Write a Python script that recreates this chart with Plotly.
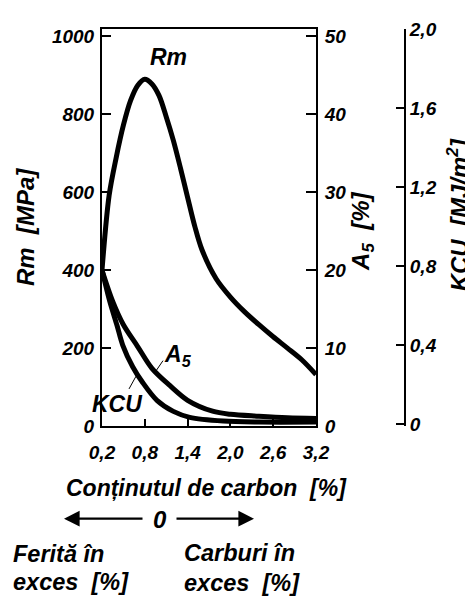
import plotly.graph_objects as go

# ---- data ----
carbon_rm = [0.2, 0.3, 0.4, 0.5, 0.6, 0.7, 0.8, 0.9, 1.0, 1.1, 1.2, 1.3, 1.4, 1.5, 1.6,
             1.8, 2.0, 2.2, 2.4, 2.6, 2.8, 3.0, 3.2]
rm = [400, 592, 690, 772, 835, 874, 890, 878, 848, 794, 733, 662, 587, 513, 453,
      378, 331, 293, 260, 229, 200, 170, 132]

carbon_a5 = [0.2, 0.35, 0.5, 0.7, 0.9, 1.15, 1.4, 1.75, 2.0, 2.4, 2.8, 3.2]
a5 = [20, 16, 13, 10.2, 7.4, 5.2, 3.3, 1.9, 1.5, 1.25, 1.05, 0.95]

carbon_kcu = [0.2, 0.31, 0.41, 0.49, 0.63, 0.77, 0.97, 1.2, 1.43, 1.9, 2.4, 3.2]
kcu = [0.78, 0.62, 0.50, 0.40, 0.29, 0.21, 0.12, 0.064, 0.034, 0.015, 0.01, 0.01]

x_ticks = [0.2, 0.8, 1.4, 2.0, 2.6, 3.2]
x_ticktext = ["0,2", "0,8", "1,4", "2,0", "2,6", "3,2"]
rm_ticks = [0, 200, 400, 600, 800, 1000]
a5_ticks = [0, 10, 20, 30, 40, 50]
kcu_ticks = [0, 0.4, 0.8, 1.2, 1.6, 2.0]
kcu_ticktext = ["0", "0,4", "0,8", "1,2", "1,6", "2,0"]

# ---- figure (page body has an 8px margin, so layout is shifted by 8px) ----
W, H = 473, 598
OFF = 8
ML, MT = 102 - OFF, 19 - OFF
PLOT_BOTTOM, KCU_X = 426 - OFF, 405 - OFF
MB, MR = H - PLOT_BOTTOM, W - KCU_X
PW, PH = W - ML - MR, H - MT - MB


def px(x):
    return (x - OFF - ML) / PW


def py(y):
    return (MT + PH - (y - OFF)) / PH


FONT = dict(family="Liberation Sans, Arial, sans-serif", color="black", style="italic", weight="bold")
tickfont = dict(FONT, size=19)
labelfont = dict(FONT, size=23)
bigfont = dict(FONT, size=24)
bottomfont = dict(FONT, size=23.5)
titlefont = dict(FONT, size=23)

LW = 5
fig = go.Figure()
fig.add_trace(go.Scatter(x=carbon_rm, y=rm, mode="lines", yaxis="y",
                         line=dict(color="black", width=LW, shape="spline", smoothing=0.9),
                         showlegend=False, hoverinfo="skip"))
fig.add_trace(go.Scatter(x=carbon_a5, y=a5, mode="lines", yaxis="y2",
                         line=dict(color="black", width=LW, shape="spline", smoothing=0.9),
                         showlegend=False, hoverinfo="skip"))
fig.add_trace(go.Scatter(x=carbon_kcu, y=kcu, mode="lines", yaxis="y3",
                         line=dict(color="black", width=LW, shape="spline", smoothing=0.9),
                         showlegend=False, hoverinfo="skip"))

xdom_end = (316 - 102) / PW

fig.update_layout(
    width=W, height=H,
    margin=dict(l=ML, r=MR, t=MT, b=MB, pad=0),
    paper_bgcolor="white", plot_bgcolor="white",
    showlegend=False,
    xaxis=dict(domain=[0, xdom_end], range=[0.2, 3.2], tickvals=x_ticks, ticktext=x_ticktext,
               ticks="inside", ticklen=7, tickwidth=2, tickcolor="black",
               showline=True, linecolor="black", linewidth=2, mirror=True,
               showgrid=False, zeroline=False, tickfont=tickfont, ticklabelstandoff=8),
    yaxis=dict(range=[0, 1019], tickvals=rm_ticks, ticks="inside", ticklen=9, tickwidth=2,
               tickcolor="black", showline=True, linecolor="black", linewidth=2,
               showgrid=False, zeroline=False, tickfont=tickfont, ticklabelstandoff=2),
    yaxis2=dict(range=[0, 50.95], tickvals=a5_ticks, overlaying="y", side="right", anchor="x",
                ticks="inside", ticklen=10, tickwidth=2, tickcolor="black",
                showline=True, linecolor="black", linewidth=2,
                showgrid=False, zeroline=False, tickfont=tickfont, ticklabelstandoff=3),
    yaxis3=dict(range=[-0.01, 2.0], tickvals=kcu_ticks, ticktext=kcu_ticktext, overlaying="y",
                side="right", anchor="free", position=1.0,
                ticks="inside", ticklen=8, tickwidth=2, tickcolor="black",
                showline=True, linecolor="black", linewidth=2,
                showgrid=False, zeroline=False, tickfont=tickfont, ticklabelstandoff=0),
)

ann = []


def text(x, y, t, xanchor="center", angle=0, font=bigfont):
    ann.append(dict(x=px(x), y=py(y), xref="paper", yref="paper", text=t, showarrow=False,
                    xanchor=xanchor, yanchor="middle", textangle=angle, font=font))


text(168, 48, "Rm", font=labelfont)
text(162, 354, "A<sub>5</sub>", xanchor="left", font=labelfont)
text(117, 403, "KCU", font=labelfont)
text(25, 222, "Rm  [MPa]", angle=-90)
text(363, 227, "A<sub>5</sub>  [%]", angle=-90)
text(458, 210, "KCU  [MJ/m<sup>2</sup>]", angle=-90)
text(64, 490, "Conținutul de carbon  [%]", xanchor="left", font=titlefont)
text(160, 522, "0")
text(11, 557, "Ferită în", xanchor="left", font=bottomfont)
text(11, 586, "exces  [%]", xanchor="left", font=bottomfont)
text(182, 556, "Carburi în", xanchor="left", font=bottomfont)
text(182, 587, "exces  [%]", xanchor="left", font=bottomfont)

# arrows
ann.append(dict(x=px(64), y=py(521), xref="paper", yref="paper", text="", showarrow=True,
                ax=80, ay=0, arrowhead=2, arrowsize=1.3, arrowwidth=2.4, arrowcolor="black"))
ann.append(dict(x=px(254), y=py(521), xref="paper", yref="paper", text="", showarrow=True,
                ax=-79, ay=0, arrowhead=2, arrowsize=1.3, arrowwidth=2.4, arrowcolor="black"))
fig.update_layout(annotations=ann)

# leader lines
fig.add_shape(type="line", xref="paper", yref="paper", x0=px(163), y0=py(359), x1=px(155), y1=py(371),
              line=dict(color="black", width=1))
fig.add_shape(type="line", xref="paper", yref="paper", x0=px(129), y0=py(388), x1=px(136), y1=py(375),
              line=dict(color="black", width=1))

fig.write_html("out.html")
